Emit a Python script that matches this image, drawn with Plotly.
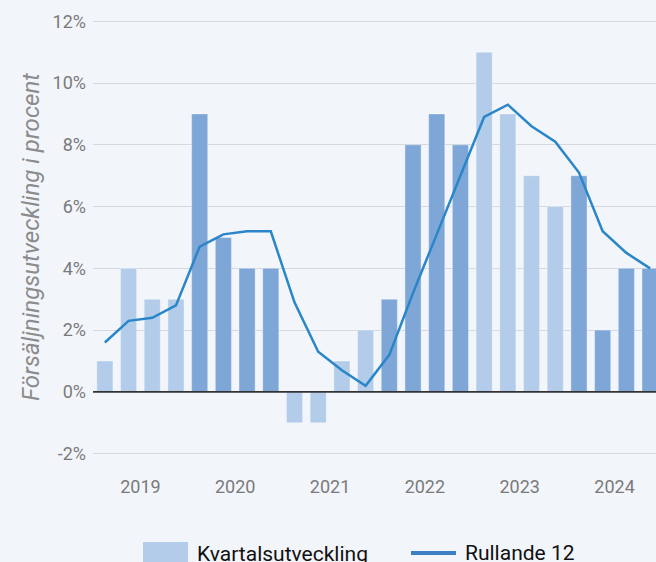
import plotly.graph_objects as go

quarters = list(range(24))
years = ["2019", "2020", "2021", "2022", "2023", "2024"]
kvartal = [1, 4, 3, 3, 9, 5, 4, 4, -1, -1, 1, 2, 3, 8, 9, 8, 11, 9, 7, 6, 7, 2, 4, 4]
rullande = [1.6, 2.3, 2.4, 2.8, 4.7, 5.1, 5.2, 5.2, 2.9, 1.3, 0.7, 0.2,
            1.2, 3.2, 5.1, 7.0, 8.9, 9.3, 8.6, 8.1, 7.1, 5.2, 4.5, 4.0]
yticks = [-2, 0, 2, 4, 6, 8, 10, 12]
yticktext = [f"{v}%" for v in yticks]

LIGHT = "#b3cce9"
DARK = "#7ea7d7"
LINE = "#2a86c8"
BG = "#f2f5fa"

bar_colors = [LIGHT if (q // 4) % 2 == 0 else DARK for q in quarters]
year_pos = [i * 4 + 1.5 for i in range(len(years))]

fig = go.Figure()
fig.add_trace(go.Bar(
    x=quarters, y=kvartal, name="Kvartalsutveckling",
    marker=dict(color=bar_colors, line=dict(color="rgba(255,255,255,0.35)", width=1)),
    width=0.68, showlegend=False,
))
fig.add_trace(go.Scatter(
    x=quarters, y=rullande, name="Rullande 12", mode="lines",
    line=dict(color=LINE, width=2.5), showlegend=False,
))

fig.update_layout(
    width=656, height=562,
    paper_bgcolor=BG, plot_bgcolor=BG,
    margin=dict(l=93, r=0, t=12, b=100),
    font=dict(family="Roboto", color="#7a7a7a"),
    bargap=0.32,
    xaxis=dict(
        range=[-0.5, 23.25], tickvals=year_pos, ticktext=years,
        showgrid=False, zeroline=False, showline=False,
        tickfont=dict(size=18, color="#7a7a7a"), ticks="",
        ticklabelstandoff=12,
    ),
    yaxis=dict(
        range=[-2.27, 12.3], tickvals=yticks, ticktext=yticktext,
        gridcolor="#d6d8dc", gridwidth=1.3,
        zeroline=False, showline=False, ticks="",
        tickfont=dict(size=18, color="#7a7a7a"),
        ticklabelstandoff=6,
        title=dict(text="<i>Försäljningsutveckling i procent</i>",
                   font=dict(size=24, color="#8c8c8c"), standoff=6),
    ),
)

# zero line on top of bars
fig.add_shape(type="line", xref="paper", yref="y", x0=0, x1=1, y0=0, y1=0,
              line=dict(color="#333333", width=1.8), layer="above")

# legend drawn below the plot
fig.add_shape(type="rect", xref="paper", yref="paper",
              x0=(143 - 93) / 563, x1=(188 - 93) / 563,
              y0=-(564 - 462) / 450, y1=-(542 - 462) / 450,
              fillcolor=LIGHT, line=dict(width=0), layer="above")
fig.add_annotation(xref="paper", yref="paper",
                   x=(195 - 93) / 563, y=-(554 - 462) / 450,
                   xanchor="left", yanchor="middle", showarrow=False,
                   text="Kvartalsutveckling", font=dict(size=21, color="#111111"))
fig.add_shape(type="line", xref="paper", yref="paper",
              x0=(411 - 93) / 563, x1=(456 - 93) / 563,
              y0=-(553 - 462) / 450, y1=-(553 - 462) / 450,
              line=dict(color="#3d7fc2", width=4), layer="above")
fig.add_annotation(xref="paper", yref="paper",
                   x=(463 - 93) / 563, y=-(553 - 462) / 450,
                   xanchor="left", yanchor="middle", showarrow=False,
                   text="Rullande 12", font=dict(size=21, color="#111111"))

fig.write_html(
    "out.html",
    config={"displayModeBar": False},
    post_script="document.body.style.margin='0';document.body.style.background='#f2f5fa';document.body.style.overflow='hidden';",
)
